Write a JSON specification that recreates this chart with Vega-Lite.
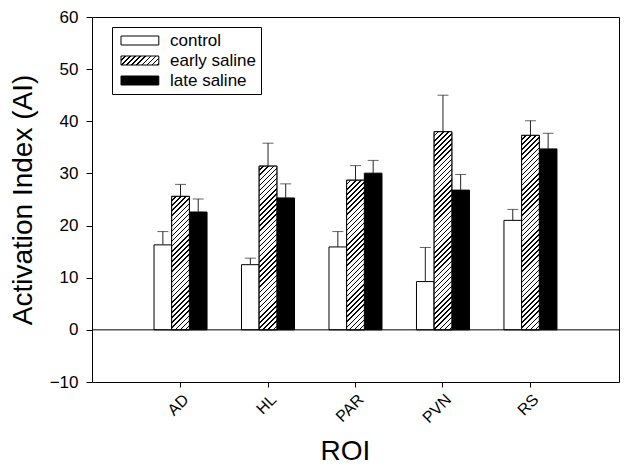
{
  "$schema": "https://vega.github.io/schema/vega-lite/v6.json",
  "autosize": {"type": "none"},
  "width": 527,
  "height": 365,
  "padding": {"left": 92, "top": 17, "right": 5, "bottom": 86},
  "background": "white",
  "config": {
    "font": "Liberation Sans",
    "view": {"stroke": "black", "strokeWidth": 1},
    "axis": {"labelColor": "black", "titleColor": "black", "tickColor": "black", "domain": false, "grid": false, "titleFontWeight": "normal"}
  },
  "params": [
    {"name": "hatchStops", "value": [
      {"offset":0,"color":"#fff"},{"offset":0.014,"color":"#fff"},{"offset":0.014,"color":"#000"},{"offset":0.02,"color":"#000"},
      {"offset":0.02,"color":"#fff"},{"offset":0.034,"color":"#fff"},{"offset":0.034,"color":"#000"},{"offset":0.04,"color":"#000"},
      {"offset":0.04,"color":"#fff"},{"offset":0.054,"color":"#fff"},{"offset":0.054,"color":"#000"},{"offset":0.06,"color":"#000"},
      {"offset":0.06,"color":"#fff"},{"offset":0.074,"color":"#fff"},{"offset":0.074,"color":"#000"},{"offset":0.08,"color":"#000"},
      {"offset":0.08,"color":"#fff"},{"offset":0.094,"color":"#fff"},{"offset":0.094,"color":"#000"},{"offset":0.1,"color":"#000"},
      {"offset":0.1,"color":"#fff"},{"offset":0.114,"color":"#fff"},{"offset":0.114,"color":"#000"},{"offset":0.12,"color":"#000"},
      {"offset":0.12,"color":"#fff"},{"offset":0.134,"color":"#fff"},{"offset":0.134,"color":"#000"},{"offset":0.14,"color":"#000"},
      {"offset":0.14,"color":"#fff"},{"offset":0.154,"color":"#fff"},{"offset":0.154,"color":"#000"},{"offset":0.16,"color":"#000"},
      {"offset":0.16,"color":"#fff"},{"offset":0.174,"color":"#fff"},{"offset":0.174,"color":"#000"},{"offset":0.18,"color":"#000"},
      {"offset":0.18,"color":"#fff"},{"offset":0.194,"color":"#fff"},{"offset":0.194,"color":"#000"},{"offset":0.2,"color":"#000"},
      {"offset":0.2,"color":"#fff"},{"offset":0.214,"color":"#fff"},{"offset":0.214,"color":"#000"},{"offset":0.22,"color":"#000"},
      {"offset":0.22,"color":"#fff"},{"offset":0.234,"color":"#fff"},{"offset":0.234,"color":"#000"},{"offset":0.24,"color":"#000"},
      {"offset":0.24,"color":"#fff"},{"offset":0.254,"color":"#fff"},{"offset":0.254,"color":"#000"},{"offset":0.26,"color":"#000"},
      {"offset":0.26,"color":"#fff"},{"offset":0.274,"color":"#fff"},{"offset":0.274,"color":"#000"},{"offset":0.28,"color":"#000"},
      {"offset":0.28,"color":"#fff"},{"offset":0.294,"color":"#fff"},{"offset":0.294,"color":"#000"},{"offset":0.3,"color":"#000"},
      {"offset":0.3,"color":"#fff"},{"offset":0.314,"color":"#fff"},{"offset":0.314,"color":"#000"},{"offset":0.32,"color":"#000"},
      {"offset":0.32,"color":"#fff"},{"offset":0.334,"color":"#fff"},{"offset":0.334,"color":"#000"},{"offset":0.34,"color":"#000"},
      {"offset":0.34,"color":"#fff"},{"offset":0.354,"color":"#fff"},{"offset":0.354,"color":"#000"},{"offset":0.36,"color":"#000"},
      {"offset":0.36,"color":"#fff"},{"offset":0.374,"color":"#fff"},{"offset":0.374,"color":"#000"},{"offset":0.38,"color":"#000"},
      {"offset":0.38,"color":"#fff"},{"offset":0.394,"color":"#fff"},{"offset":0.394,"color":"#000"},{"offset":0.4,"color":"#000"},
      {"offset":0.4,"color":"#fff"},{"offset":0.414,"color":"#fff"},{"offset":0.414,"color":"#000"},{"offset":0.42,"color":"#000"},
      {"offset":0.42,"color":"#fff"},{"offset":0.434,"color":"#fff"},{"offset":0.434,"color":"#000"},{"offset":0.44,"color":"#000"},
      {"offset":0.44,"color":"#fff"},{"offset":0.454,"color":"#fff"},{"offset":0.454,"color":"#000"},{"offset":0.46,"color":"#000"},
      {"offset":0.46,"color":"#fff"},{"offset":0.474,"color":"#fff"},{"offset":0.474,"color":"#000"},{"offset":0.48,"color":"#000"},
      {"offset":0.48,"color":"#fff"},{"offset":0.494,"color":"#fff"},{"offset":0.494,"color":"#000"},{"offset":0.5,"color":"#000"},
      {"offset":0.5,"color":"#fff"},{"offset":0.514,"color":"#fff"},{"offset":0.514,"color":"#000"},{"offset":0.52,"color":"#000"},
      {"offset":0.52,"color":"#fff"},{"offset":0.534,"color":"#fff"},{"offset":0.534,"color":"#000"},{"offset":0.54,"color":"#000"},
      {"offset":0.54,"color":"#fff"},{"offset":0.554,"color":"#fff"},{"offset":0.554,"color":"#000"},{"offset":0.56,"color":"#000"},
      {"offset":0.56,"color":"#fff"},{"offset":0.574,"color":"#fff"},{"offset":0.574,"color":"#000"},{"offset":0.58,"color":"#000"},
      {"offset":0.58,"color":"#fff"},{"offset":0.594,"color":"#fff"},{"offset":0.594,"color":"#000"},{"offset":0.6,"color":"#000"},
      {"offset":0.6,"color":"#fff"},{"offset":0.614,"color":"#fff"},{"offset":0.614,"color":"#000"},{"offset":0.62,"color":"#000"},
      {"offset":0.62,"color":"#fff"},{"offset":0.634,"color":"#fff"},{"offset":0.634,"color":"#000"},{"offset":0.64,"color":"#000"},
      {"offset":0.64,"color":"#fff"},{"offset":0.654,"color":"#fff"},{"offset":0.654,"color":"#000"},{"offset":0.66,"color":"#000"},
      {"offset":0.66,"color":"#fff"},{"offset":0.674,"color":"#fff"},{"offset":0.674,"color":"#000"},{"offset":0.68,"color":"#000"},
      {"offset":0.68,"color":"#fff"},{"offset":0.694,"color":"#fff"},{"offset":0.694,"color":"#000"},{"offset":0.7,"color":"#000"},
      {"offset":0.7,"color":"#fff"},{"offset":0.714,"color":"#fff"},{"offset":0.714,"color":"#000"},{"offset":0.72,"color":"#000"},
      {"offset":0.72,"color":"#fff"},{"offset":0.734,"color":"#fff"},{"offset":0.734,"color":"#000"},{"offset":0.74,"color":"#000"},
      {"offset":0.74,"color":"#fff"},{"offset":0.754,"color":"#fff"},{"offset":0.754,"color":"#000"},{"offset":0.76,"color":"#000"},
      {"offset":0.76,"color":"#fff"},{"offset":0.774,"color":"#fff"},{"offset":0.774,"color":"#000"},{"offset":0.78,"color":"#000"},
      {"offset":0.78,"color":"#fff"},{"offset":0.794,"color":"#fff"},{"offset":0.794,"color":"#000"},{"offset":0.8,"color":"#000"},
      {"offset":0.8,"color":"#fff"},{"offset":0.814,"color":"#fff"},{"offset":0.814,"color":"#000"},{"offset":0.82,"color":"#000"},
      {"offset":0.82,"color":"#fff"},{"offset":0.834,"color":"#fff"},{"offset":0.834,"color":"#000"},{"offset":0.84,"color":"#000"},
      {"offset":0.84,"color":"#fff"},{"offset":0.854,"color":"#fff"},{"offset":0.854,"color":"#000"},{"offset":0.86,"color":"#000"},
      {"offset":0.86,"color":"#fff"},{"offset":0.874,"color":"#fff"},{"offset":0.874,"color":"#000"},{"offset":0.88,"color":"#000"},
      {"offset":0.88,"color":"#fff"},{"offset":0.894,"color":"#fff"},{"offset":0.894,"color":"#000"},{"offset":0.9,"color":"#000"},
      {"offset":0.9,"color":"#fff"},{"offset":0.914,"color":"#fff"},{"offset":0.914,"color":"#000"},{"offset":0.92,"color":"#000"},
      {"offset":0.92,"color":"#fff"},{"offset":0.934,"color":"#fff"},{"offset":0.934,"color":"#000"},{"offset":0.94,"color":"#000"},
      {"offset":0.94,"color":"#fff"},{"offset":0.954,"color":"#fff"},{"offset":0.954,"color":"#000"},{"offset":0.96,"color":"#000"},
      {"offset":0.96,"color":"#fff"},{"offset":0.974,"color":"#fff"},{"offset":0.974,"color":"#000"},{"offset":0.98,"color":"#000"},
      {"offset":0.98,"color":"#fff"},{"offset":0.994,"color":"#fff"},{"offset":0.994,"color":"#000"},{"offset":1,"color":"#000"}
    ]}
  ],
  "data": {"values": [
    {"roi": "AD", "group": "control", "mean": 16.3, "upper": 18.85},
    {"roi": "AD", "group": "early saline", "mean": 25.6, "upper": 27.9},
    {"roi": "AD", "group": "late saline", "mean": 22.6, "upper": 25.1},
    {"roi": "HL", "group": "control", "mean": 12.5, "upper": 13.75},
    {"roi": "HL", "group": "early saline", "mean": 31.4, "upper": 35.8},
    {"roi": "HL", "group": "late saline", "mean": 25.3, "upper": 28.0},
    {"roi": "PAR", "group": "control", "mean": 15.9, "upper": 18.85},
    {"roi": "PAR", "group": "early saline", "mean": 28.7, "upper": 31.5},
    {"roi": "PAR", "group": "late saline", "mean": 30.05, "upper": 32.5},
    {"roi": "PVN", "group": "control", "mean": 9.26, "upper": 15.8},
    {"roi": "PVN", "group": "early saline", "mean": 38.0, "upper": 45.0},
    {"roi": "PVN", "group": "late saline", "mean": 26.8, "upper": 29.8},
    {"roi": "RS", "group": "control", "mean": 21.0, "upper": 23.1},
    {"roi": "RS", "group": "early saline", "mean": 37.3, "upper": 40.1},
    {"roi": "RS", "group": "late saline", "mean": 34.7, "upper": 37.7}
  ]},
  "encoding": {
    "x": {
      "field": "roi", "type": "nominal", "sort": ["AD", "HL", "PAR", "PVN", "RS"],
      "scale": {"paddingInner": 0.394, "paddingOuter": 0.709},
      "axis": {"title": "ROI", "titleFontSize": 28, "titlePadding": 12, "titleX": 253, "labelAngle": -45, "labelFontSize": 16, "labelPadding": 4, "tickSize": 5, "ticks": true}
    },
    "xOffset": {"field": "group", "type": "nominal", "scale": {"domain": ["control", "early saline", "late saline"], "paddingInner": 0, "paddingOuter": 0}}
  },
  "layer": [
    {
      "mark": {"type": "bar", "stroke": "black", "strokeWidth": 1},
      "encoding": {
        "y": {
          "field": "mean", "type": "quantitative",
          "scale": {"domain": [-10, 60], "nice": false, "zero": false},
          "axis": {"title": "Activation Index (AI)", "titleFontSize": 28, "titlePadding": 12, "values": [-10, 0, 10, 20, 30, 40, 50, 60], "labelFontSize": 17, "labelPadding": 8, "tickSize": 6}
        },
        "fill": {
          "field": "group", "type": "nominal",
          "scale": {"domain": ["control", "early saline", "late saline"], "range": ["white", {"expr": "{gradient: 'linear', x1: 0, y1: 0, x2: 6.373, y2: 1.517, stops: hatchStops}"}, "black"]},
          "legend": {
            "title": null, "orient": "none", "legendX": 20, "legendY": 10,
            "strokeColor": "black", "fillColor": "white", "padding": 5,
            "symbolType": "M-1,-1H7.4V1H-1Z", "symbolSize": 81, "symbolStrokeColor": "black", "symbolStrokeWidth": 1,
            "labelFontSize": 17, "labelOffset": 36, "labelColor": "black", "rowPadding": 2
          }
        }
      }
    },
    {
      "transform": [{"filter": "datum.group === 'early saline'"}],
      "mark": {"type": "bar", "stroke": "black", "strokeWidth": 1,
        "fill": {"expr": "{gradient: 'linear', x1: 0, y1: 0, x2: 0.0694 / (0.0694 * 0.0694 + pow(datum.mean * 0.02048, 2)), y2: datum.mean * 0.02048 / (0.0694 * 0.0694 + pow(datum.mean * 0.02048, 2)), stops: hatchStops}"}},
      "encoding": {
        "y": {"field": "mean", "type": "quantitative"}
      }
    },
    {
      "mark": {"type": "rule", "color": "#222", "strokeWidth": 1},
      "encoding": {
        "y": {"field": "mean", "type": "quantitative"},
        "y2": {"field": "upper"}
      }
    },
    {
      "mark": {"type": "tick", "color": "#222", "thickness": 1, "size": 11, "orient": "horizontal"},
      "encoding": {
        "y": {"field": "upper", "type": "quantitative"}
      }
    },
    {
      "data": {"values": [{"level": 0}]},
      "mark": {"type": "rule", "color": "black", "strokeWidth": 1},
      "encoding": {
        "x": null, "xOffset": null,
        "y": {"field": "level", "type": "quantitative"}
      }
    }
  ]
}
